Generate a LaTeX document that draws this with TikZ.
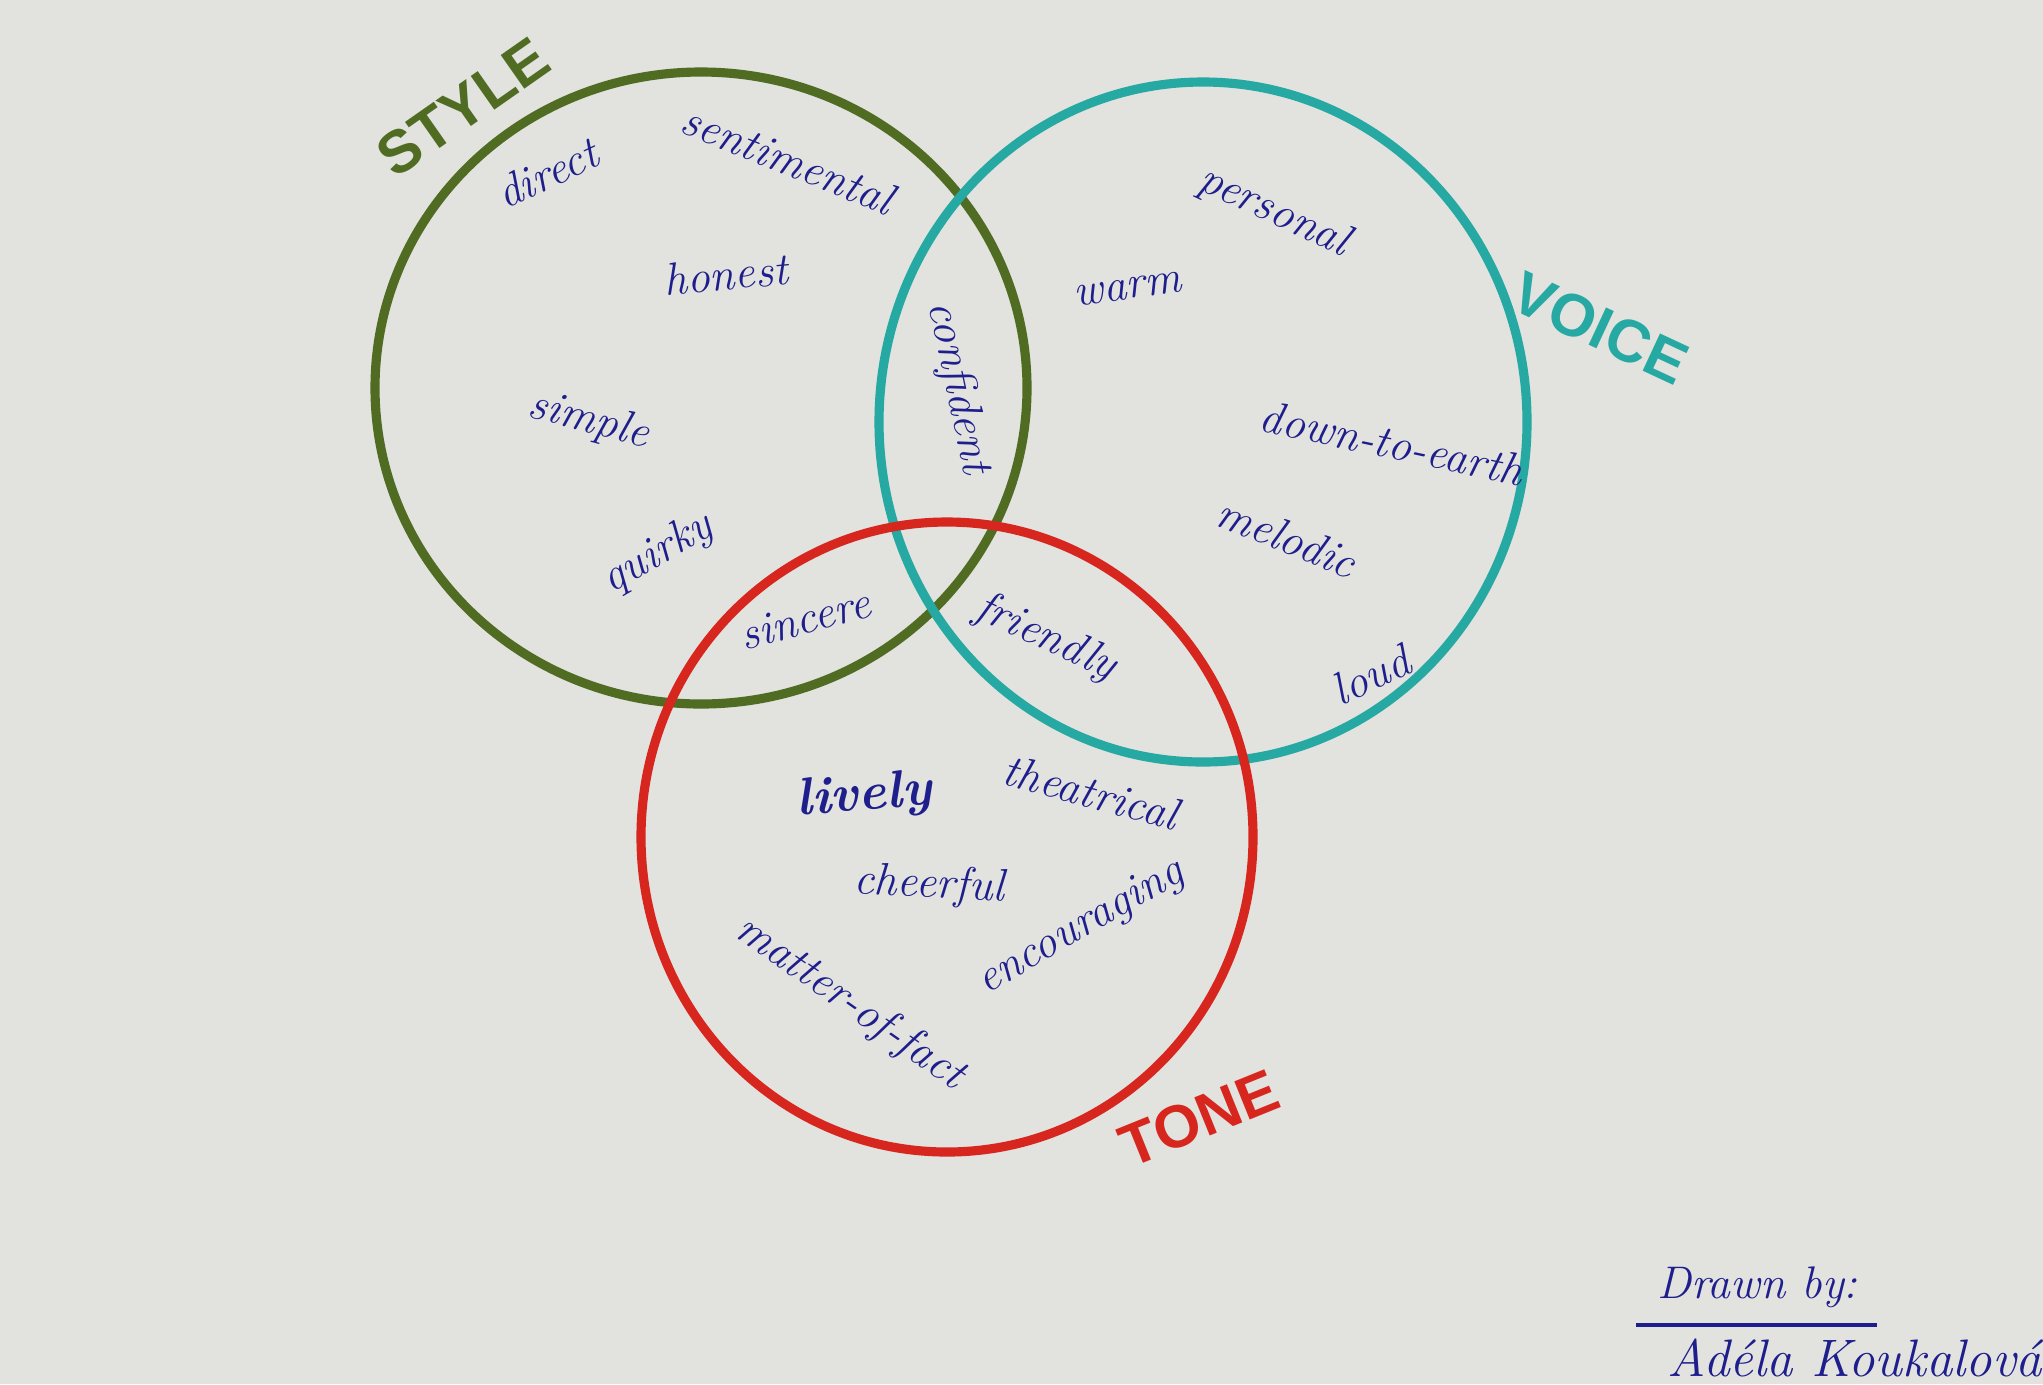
\documentclass[tikz,border=0pt]{standalone}
\usepackage{fontspec}
\newfontfamily\markerfont{Liberation Sans}
\usetikzlibrary{positioning}
\definecolor{paper}{RGB}{226,226,223}
\definecolor{stylegreen}{RGB}{80,108,34}
\definecolor{voiceteal}{RGB}{38,168,163}
\definecolor{tonered}{RGB}{214,38,30}
\definecolor{ink}{RGB}{30,30,140}

\begin{document}
\begin{tikzpicture}[x=0.01cm, y=-0.01cm,
	word/.style={text=ink, font=\fontsize{13}{15}\selectfont\itshape},
	heading/.style={font=\markerfont\bfseries\fontsize{17}{19}\selectfont},
	ring/.style={line width=2.6pt}]

	% paper
	\fill[paper] (0,0) rectangle (2043,1384);
	\useasboundingbox (0,0) rectangle (2043,1384);

	% circles
	\draw[ring, stylegreen] (701,388) ellipse [x radius=326, y radius=316];
	\draw[ring, voiceteal] (1203,422) ellipse [x radius=324, y radius=340];
	\draw[ring, tonered] (947,837) ellipse [x radius=306, y radius=315];

	% headings
	\node[heading, text=stylegreen, rotate=35] at (463,107) (STYLE){STYLE};
	\node[heading, text=voiceteal, rotate=-25] at (1600,328) (VOICE){VOICE};
	\node[heading, text=tonered, rotate=22] at (1199,1118) (TONE){TONE};

	% style only
	\node[word, rotate=25] at (547,173) (direct){direct};
	\node[word, rotate=-22] at (788,159) (sentimental){sentimental};
	\node[word, rotate=5] at (726,274) (honest){honest};
	\node[word, rotate=-15] at (589,421) (simple){simple};
	\node[word, rotate=30] at (658,554) (quirky){quirky};

	% overlaps
	\node[word, rotate=-78] at (958,388) (confident){confident};
	\node[word, rotate=15] at (805,619) (sincere){sincere};
	\node[word, rotate=-25] at (1046,638) (friendly){friendly};

	% voice only
	\node[word, rotate=-25] at (1274,212) (personal){personal};
	\node[word, rotate=8] at (1128,289) (warm){warm};
	\node[word, rotate=-12] at (1392,443) (downtoearth){down-to-earth};
	\node[word, rotate=-22] at (1287,537) (melodic){melodic};
	\node[word, rotate=25] at (1371,675) (loud){loud};

	% tone only
	\node[word, font=\fontsize{15}{17}\selectfont\bfseries\itshape, rotate=5] at (864,797) (lively){lively};
	\node[word, rotate=-15] at (1091,792) (theatrical){theatrical};
	\node[word, rotate=-3] at (929,886) (cheerful){cheerful};
	\node[word, rotate=30] at (1081,928) (encouraging){encouraging};
	\node[word, rotate=-35] at (850,1003) (matteroffact){matter-of-fact};

	% signature
	\node[word, anchor=south west] at (1645,1320) (drawnby){Drawn by:};
	\draw[ink, line width=1pt] (1636,1325) -- (1877,1325);
	\node[word, font=\fontsize{15}{17}\selectfont\itshape, anchor=north west] at (1655,1326) (author){Adéla Koukalová};
\end{tikzpicture}
\end{document}
